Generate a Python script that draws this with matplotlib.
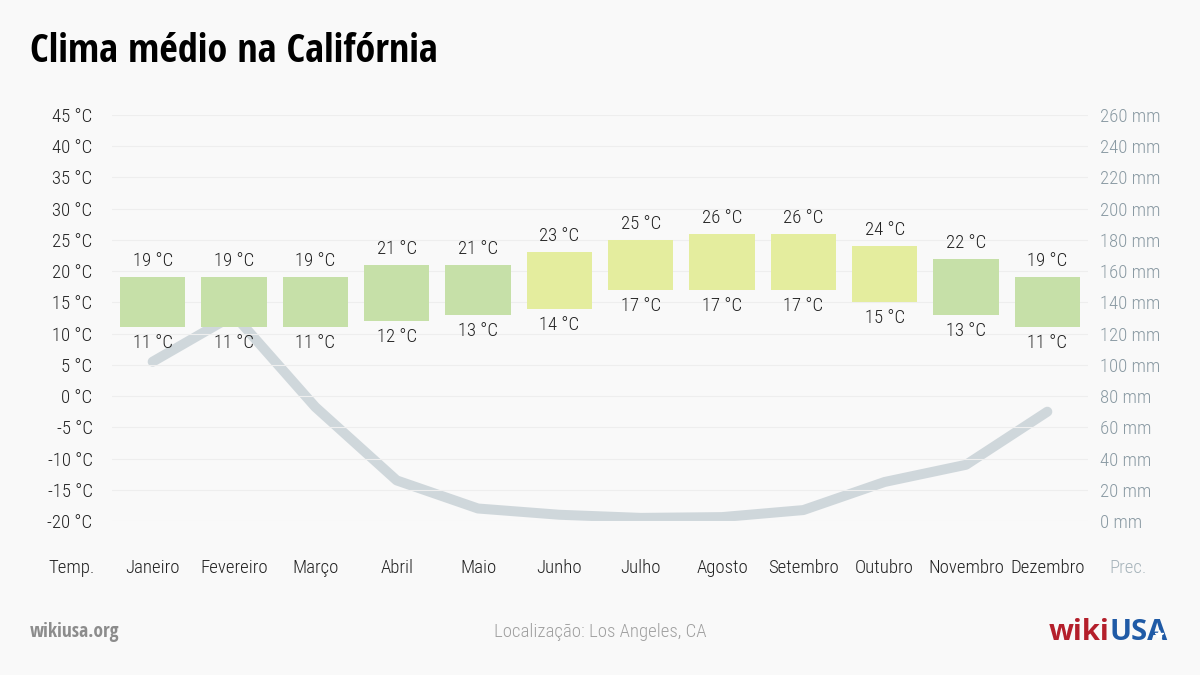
import matplotlib
matplotlib.use("Agg")
import matplotlib.pyplot as plt
from matplotlib import font_manager as fm
from matplotlib.lines import Line2D

# pick narrow faces: a light one for labels, a bold one for the title
_fonts = fm.fontManager.ttflist
def _pick(cands, light):
    for n in cands:
        ws = sorted({f.weight for f in _fonts if f.name == n and isinstance(f.weight, int)})
        if not ws:
            continue
        if light:
            ok = [w for w in ws if 300 <= w <= 400]
            if ok:
                return n, ok[0]
        else:
            ok = [w for w in ws if w >= 600]
            if ok:
                return n, ok[0]
    return "Liberation Sans", 400

NARROW, NW = _pick(["Open Sans Condensed", "Liberation Sans Narrow", "Roboto Condensed"], True)
NARROW_B, _ = _pick(["Open Sans Condensed", "Liberation Sans Narrow", "Roboto Condensed"], False)

months = ["Janeiro", "Fevereiro", "Março", "Abril", "Maio", "Junho",
          "Julho", "Agosto", "Setembro", "Outubro", "Novembro", "Dezembro"]
t_max = [19, 19, 19, 21, 21, 23, 25, 26, 26, 24, 22, 19]
t_min = [11, 11, 11, 12, 13, 14, 17, 17, 17, 15, 13, 11]
precip = [102, 132, 73, 26, 8, 4, 2, 2.5, 7, 25, 36, 70]
temp_ticks = list(range(-20, 50, 5))
prec_ticks = list(range(0, 280, 20))

BG = "#f9f9f9"
GREEN = "#c6e0a8"
YELLOW = "#e4ed9e"
TXT = "#222222"
GREY = "#8a9aa3"
LBL = dict(family=NARROW, fontweight=NW, fontsize=13.5)

fig = plt.figure(figsize=(12, 6.75), dpi=100, facecolor=BG)
ax = fig.add_axes([112 / 1200, 154 / 675, 976 / 1200, 406 / 675])
ax.set_xlim(-0.5, 11.5)
ax.set_ylim(-20, 45)

x = list(range(len(months)))
colors = [YELLOW if m >= 23 else GREEN for m in t_max]
heights = [hi - lo for hi, lo in zip(t_max, t_min)]
ax.bar(x, heights, bottom=t_min, width=0.8, color=colors, zorder=2)

for xi, hi, lo in zip(x, t_max, t_min):
    ax.annotate(f"{hi} °C", (xi, hi), xytext=(0, 5), textcoords="offset points",
                ha="center", va="bottom", color=TXT, zorder=5, **LBL)
    ax.annotate(f"{lo} °C", (xi, lo), xytext=(0, -5), textcoords="offset points",
                ha="center", va="top", color=TXT, zorder=5, **LBL)

ax.set_yticks(temp_ticks)
ax.set_yticklabels([f"{t} °C" for t in temp_ticks], color=TXT, **LBL)
ax.tick_params(axis="y", length=0, pad=14)
ax.set_xticks([])
ax.grid(axis="y", color="#eeeeee", lw=0.8, zorder=0)
for s in ax.spines.values():
    s.set_visible(False)

ax2 = ax.twinx()
ax2.set_ylim(0, 260)
ax2.plot(x, precip, color="#b4c1c8", alpha=0.6, lw=7.2,
         solid_capstyle="round", solid_joinstyle="round", zorder=3)
ax2.set_yticks(prec_ticks)
ax2.set_yticklabels([f"{p} mm" for p in prec_ticks], color=GREY, **LBL)
ax2.tick_params(axis="y", length=0, pad=9)
for s in ax2.spines.values():
    s.set_visible(False)
# bars/labels axis on top of the line axis
ax2.set_zorder(0)
ax.set_zorder(1)
ax.patch.set_visible(False)
ax2.patch.set_visible(False)

# month row
ymon = 1 - 568 / 675
for xi, m in zip(x, months):
    fig.text((112 + (xi + 0.5) * 976 / 12) / 1200, ymon, m, ha="center", va="center",
             color=TXT, **LBL)
fig.text(72 / 1200, ymon, "Temp.", ha="center", va="center", color=TXT, **LBL)
fig.text(1128 / 1200, ymon, "Prec.", ha="center", va="center", color="#a7b4bb", **LBL)

fig.text(30 / 1200, 1 - 52 / 675, "Clima médio na Califórnia", ha="left", va="center",
         fontsize=29, fontweight="bold", color="#000000", family=NARROW_B)

fig.text(30 / 1200, 1 - 632 / 675, "wikiusa.org", ha="left", va="center",
         fontsize=14, fontweight="bold", color="#8c8c8c", family=NARROW_B)
fig.text(600 / 1200, 1 - 632 / 675, "Localização: Los Angeles, CA", ha="center", va="center",
         color="#a0a0a0", **LBL)

# logo
t1 = fig.text(1168 / 1200, 1 - 632 / 675, "USA", ha="right", va="center",
              fontsize=21, fontweight="bold", color="#1f5aa6", family="Open Sans")
fig.canvas.draw()
bb = t1.get_window_extent()
fig.text(bb.x0 / 1200, 1 - 632 / 675, "wiki", ha="right", va="center",
         fontsize=21, fontweight="bold", color="#b41f2b", family="Open Sans")
fig.add_artist(Line2D([(bb.x1 - 9) / 1200], [(bb.y0 + bb.height * 0.42) / 675], marker="*",
                      ms=6, color="white", mec="white", transform=fig.transFigure, zorder=10))

plt.savefig("out.png", dpi=100, facecolor=BG)
